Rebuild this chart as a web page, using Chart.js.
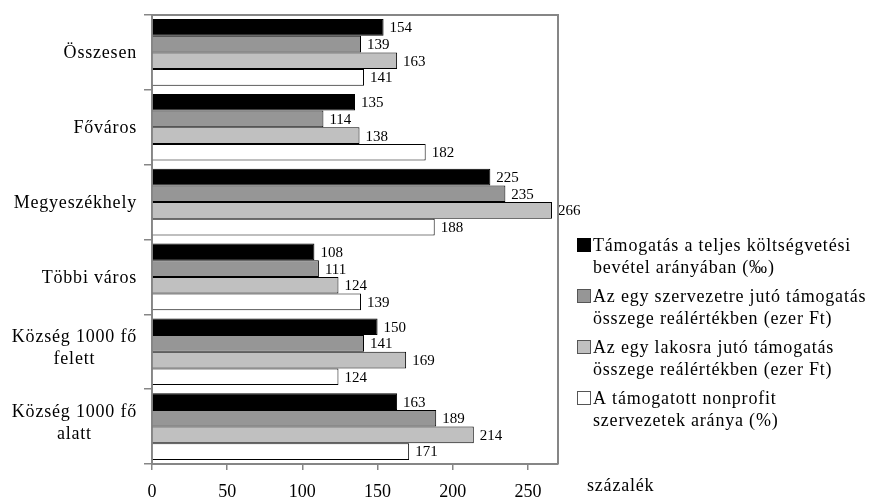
<!DOCTYPE html>
<html>
<head>
<meta charset="utf-8">
<script src="https://cdn.jsdelivr.net/npm/chart.js@4.4.1/dist/chart.umd.min.js"></script>
<style>
  html, body { margin: 0; padding: 0; background: #ffffff; }
  #wrap { width: 870px; height: 499px; }
</style>
</head>
<body>
<div id="wrap"><canvas id="chart" width="870" height="499"></canvas></div>
<script>
// Settlement groups (two-line names are given as arrays)
const categories = [
  'Összesen',
  'Főváros',
  'Megyeszékhely',
  'Többi város',
  ['Község 1000 fő', 'felett'],
  ['Község 1000 fő', 'alatt']
];

// Series names, split into the two lines shown in the legend
const seriesLabels = [
  ['Támogatás a teljes költségvetési', 'bevétel arányában (‰)'],
  ['Az egy szervezetre jutó támogatás', 'összege reálértékben (ezer Ft)'],
  ['Az egy lakosra jutó támogatás', 'összege reálértékben (ezer Ft)'],
  ['A támogatott nonprofit', 'szervezetek aránya (%)']
];

// Values in percent
const shareOfRevenue  = [154, 135, 225, 108, 150, 163];
const perOrganisation = [139, 114, 235, 111, 141, 189];
const perResident     = [163, 138, 266, 124, 169, 214];
const supportedShare  = [141, 182, 188, 139, 124, 171];

const xTicks = [0, 50, 100, 150, 200, 250];
const xMax = 270;
const axisTitle = 'százalék';

const fills   = ['#000000', '#969696', '#c0c0c0', '#ffffff'];
const SERIF = '"Liberation Serif", "Times New Roman", serif';
const AXIS_GREY = '#868686';

Chart.defaults.font.family = SERIF;
Chart.defaults.color = '#000000';

const seriesValues = [shareOfRevenue, perOrganisation, perResident, supportedShare];

// Value printed just past the end of every bar
const valueLabels = {
  id: 'valueLabels',
  afterDatasetsDraw(chart) {
    const ctx = chart.ctx;
    ctx.save();
    ctx.letterSpacing = '0px';
    ctx.font = '15px ' + SERIF;
    ctx.fillStyle = '#000';
    ctx.textAlign = 'left';
    ctx.textBaseline = 'middle';
    chart.data.datasets.forEach((ds, di) => {
      chart.getDatasetMeta(di).data.forEach((el, i) => {
        ctx.fillText(String(ds.data[i]), el.x + 6, el.y + 1);
      });
    });
    ctx.restore();
  }
};

// Plot frame, category names, legend and axis title
const decorations = {
  id: 'decorations',
  afterDraw(chart) {
    const ctx = chart.ctx;
    const a = chart.chartArea;
    const yScale = chart.scales.y;
    ctx.save();

    // top and right edges of the plot frame
    ctx.strokeStyle = AXIS_GREY;
    ctx.lineWidth = 2;
    ctx.beginPath();
    ctx.moveTo(a.left, a.top);
    ctx.lineTo(a.right, a.top);
    ctx.lineTo(a.right, a.bottom);
    ctx.stroke();

    // category names: right-aligned block, lines centred within it
    ctx.font = '18px ' + SERIF;
    ctx.letterSpacing = '0.8px';
    ctx.fillStyle = '#000';
    ctx.textBaseline = 'middle';
    ctx.textAlign = 'center';
    const rightEdge = a.left - 15;
    categories.forEach((cat, i) => {
      const lines = Array.isArray(cat) ? cat : [cat];
      const w = Math.max(...lines.map(l => ctx.measureText(l).width));
      const cx = rightEdge - w / 2;
      const cy = yScale.getPixelForValue(i) + (lines.length > 1 ? -3 : 1);
      const lh = 22;
      lines.forEach((l, k) => {
        ctx.fillText(l, cx, cy + (k - (lines.length - 1) / 2) * lh);
      });
    });

    // legend
    ctx.textAlign = 'left';
    const boxX = 577, textX = 593, firstY = 245, itemGap = 51, lineGap = 22, box = 14;
    chart.data.datasets.forEach((ds, di) => {
      const y0 = firstY + di * itemGap;
      ctx.fillStyle = ds.backgroundColor;
      ctx.fillRect(boxX, y0 - box / 2, box, box);
      ctx.strokeStyle = di === 0 ? '#000' : '#555';
      ctx.lineWidth = 1;
      ctx.strokeRect(boxX + 0.5, y0 - box / 2 + 0.5, box - 1, box - 1);
      ctx.fillStyle = '#000';
      seriesLabels[di].forEach((line, k) => {
        ctx.fillText(line, textX, y0 + k * lineGap + 1);
      });
    });

    // axis title
    ctx.fillText(axisTitle, 587, 486);
    ctx.restore();
  }
};

new Chart(document.getElementById('chart'), {
  type: 'bar',
  data: {
    labels: categories.map(c => Array.isArray(c) ? c.join(' ') : c),
    datasets: seriesValues.map((vals, i) => ({
      label: seriesLabels[i].join(' '),
      data: vals,
      backgroundColor: fills[i],
      borderColor: '#000000',
      borderWidth: 1,
      borderSkipped: 'start',
      barPercentage: 1,
      categoryPercentage: 0.89
    }))
  },
  options: {
    indexAxis: 'y',
    responsive: false,
    animation: false,
    devicePixelRatio: 1,
    layout: { padding: { top: 15, right: 312, bottom: 0, left: 0 } },
    plugins: {
      legend: { display: false },
      tooltip: { enabled: false }
    },
    scales: {
      x: {
        type: 'linear',
        min: 0,
        max: xMax,
        afterBuildTicks(scale) { scale.ticks = xTicks.map(v => ({ value: v })); },
        afterFit(scale) { scale.height = 35; },
        grid: {
          drawOnChartArea: false,
          drawTicks: true,
          tickLength: 6,
          color: AXIS_GREY,
          lineWidth: 1.5
        },
        border: { color: AXIS_GREY, width: 2 },
        ticks: {
          font: { size: 18, family: SERIF },
          color: '#000',
          padding: 11,
          maxRotation: 0
        }
      },
      y: {
        type: 'category',
        afterFit(scale) { scale.width = 152; },
        grid: {
          offset: true,
          drawOnChartArea: false,
          drawTicks: true,
          tickLength: 8,
          color: AXIS_GREY,
          lineWidth: 1.5
        },
        border: { color: AXIS_GREY, width: 2 },
        ticks: { display: false }
      }
    }
  },
  plugins: [valueLabels, decorations]
});
</script>
</body>
</html>
